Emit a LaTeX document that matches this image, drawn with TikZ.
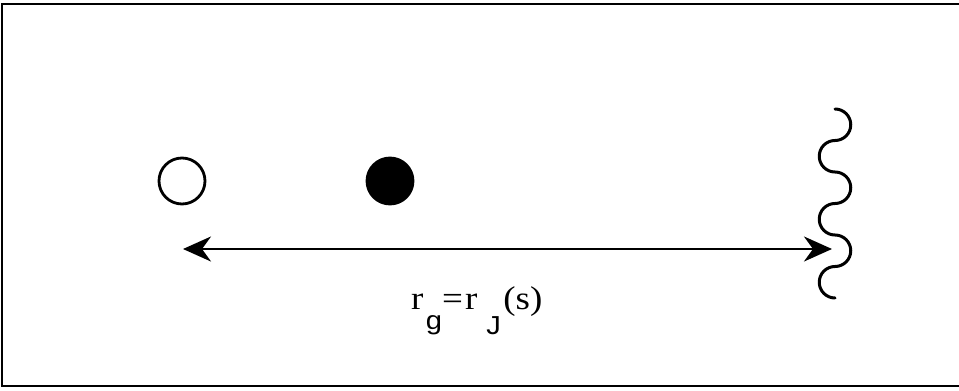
\documentclass[tikz,border=0pt]{standalone}
\usepackage{fontspec}
\setmainfont{Liberation Serif}
\setsansfont{Liberation Sans}
\usetikzlibrary{arrows.meta, positioning}

\begin{document}
\begin{tikzpicture}[
    x=1pt, y=-1pt,
    frame/.style={line width=2.6pt},
    dot/.style={circle, draw=black, line width=2.8pt, minimum size=46pt, inner sep=0pt},
    arrow/.style={{Stealth[length=28pt, width=25pt, inset=9pt]}-{Stealth[length=28pt, width=25pt, inset=9pt]}, line width=2.6pt},
    wave/.style={line width=3pt, line cap=round}
]
\useasboundingbox (0,0) rectangle (959,391);

% Frame, open on the right
\draw[frame] (965,4) -- (2,4) -- (2,386) -- (965,386);

% Particles
\node[dot] (empty) at (182,181) {};
\node[dot, fill=black] (full) at (390,181) {};

% Wall
\draw[wave] (835,109) arc (-90:90:15.75) arc (270:90:15.75)
                      arc (-90:90:15.75) arc (270:90:15.75)
                      arc (-90:90:15.75) arc (270:90:15.75);

% Distance
\coordinate (rstart) at (183,249);
\coordinate (rend) at (832,249);
\draw[arrow] (rstart) -- (rend);

\node[anchor=base west, inner sep=0pt, font=\fontsize{33}{33}\selectfont] (rlabel) at (411,309)
    {\scalebox{1.12}[1]{r\kern2.2pt\raisebox{-20.5pt}{\fontsize{26}{26}\sffamily g}=\kern1.8pt r\kern8pt\raisebox{-25pt}{\fontsize{26}{26}\sffamily J}\kern2.3pt(s)}};

\end{tikzpicture}
\end{document}
